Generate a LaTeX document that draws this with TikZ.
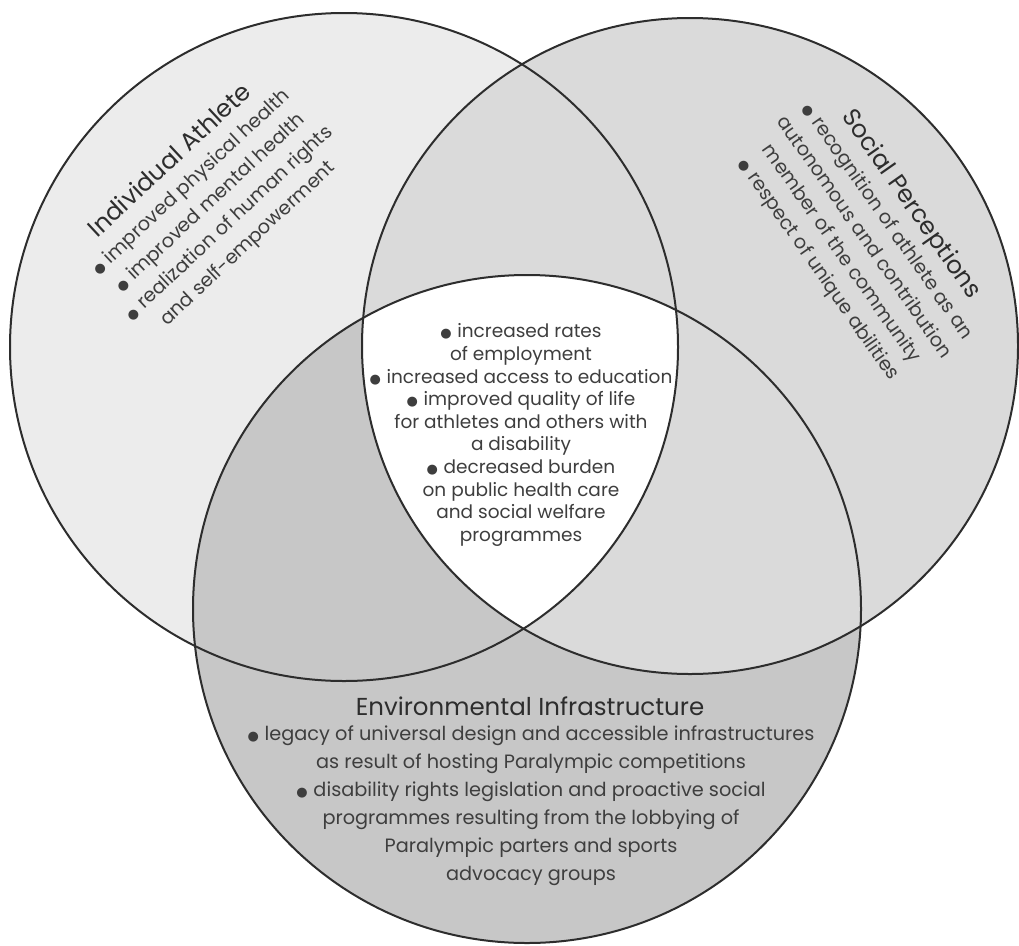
\documentclass[tikz,border=0pt]{standalone}
\usepackage{fontspec}
\setmainfont{Poppins}
\newfontfamily\dejavu{DejaVu Sans}
\definecolor{fillA}{RGB}{236,236,236}
\definecolor{fillB}{RGB}{218,218,218}
\definecolor{fillC}{RGB}{199,199,199}
\definecolor{linegray}{RGB}{45,45,45}
\definecolor{textgray}{RGB}{62,62,62}
\definecolor{titlegray}{RGB}{45,45,45}
\newcommand\bul{{\dejavu\fontsize{13}{13}\selectfont ●}\hspace{0.3em}}
\newcommand\ttl[1]{{\color{titlegray}\fontsize{24.5}{28}\selectfont #1}}
\tikzset{
  ring/.style={draw=linegray, line width=2pt},
  bodytext/.style={text=textgray, align=center, inner sep=0pt, font=\fontsize{19.3}{28}\selectfont},
  coretext/.style={text=textgray, align=center, inner sep=0pt, font=\fontsize{18.5}{22.6}\selectfont},
}
\begin{document}
\begin{tikzpicture}[x=1pt,y=-1pt]
\useasboundingbox (0,0) rectangle (1019,945);
% fills
\fill[fillA] (344,347) circle[radius=334pt];
\fill[fillC] (527,609) circle[radius=334pt];
\fill[fillB] (690,346) circle[radius=328pt];
\begin{scope}
  \clip (344,347) circle[radius=334pt];
  \clip (690,346) circle[radius=328pt];
  \fill[white] (527,609) circle[radius=334pt];
\end{scope}
% outlines
\draw[ring] (344,347) circle[radius=334pt];
\draw[ring] (690,346) circle[radius=328pt];
\draw[ring] (527,609) circle[radius=334pt];
% texts
\node[bodytext, rotate=43] (athlete) at (208.8,201.9)
  {\ttl{Individual Athlete}\\ \bul improved physical health\\ \bul improved mental health\\ \bul realization of human rights\\ and self-empowerment};
\node[bodytext, rotate=-55] (social) at (865.2,236.5)
  {\ttl{Social Perceptions}\\ \bul recognition of athlete as an\\ autonomous and contribution\\ member of the community\\ \bul respect of unique abilities};
\node[coretext] (core) at (521,435)
  {\bul increased rates\\ of employment\\ \bul increased access to education\\ \bul improved quality of life\\ for athletes and others with\\ a disability\\ \bul decreased burden\\ on public health care\\ and social welfare\\ programmes};
\node[bodytext] (envtitle) at (530,706) {\ttl{Environmental Infrastructure}};
\node[bodytext] (envbody) at (531,806)
  {\bul legacy of universal design and accessible infrastructures\\ as result of hosting Paralympic competitions\\ \bul disability rights legislation and proactive social\\ programmes resulting from the lobbying of\\ Paralympic parters and sports\\ advocacy groups};
\end{tikzpicture}
\end{document}
